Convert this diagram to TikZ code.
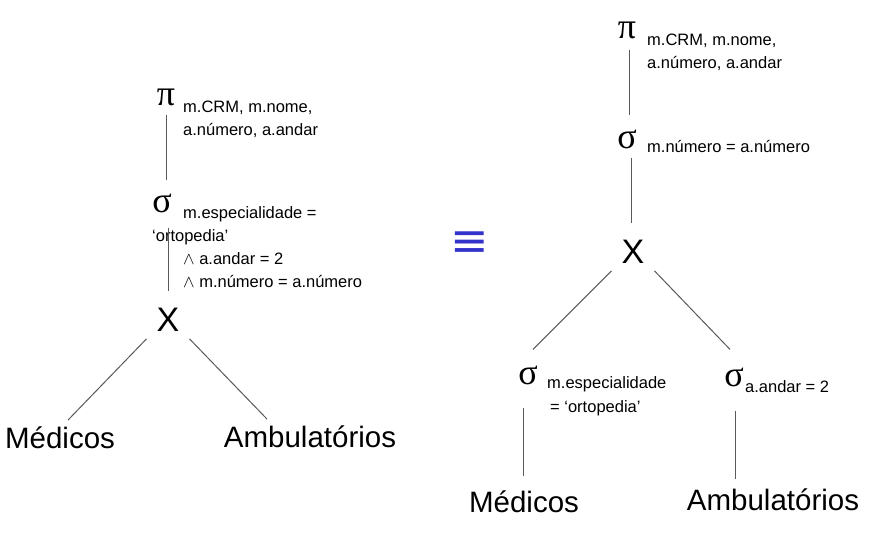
\documentclass[tikz,border=0pt]{standalone}
\usepackage{fontspec}
\setmainfont{Liberation Sans}
\newfontfamily\greekfont{Liberation Serif}
\newfontfamily\symfont{DejaVu Sans}
\definecolor{equivblue}{RGB}{51,51,204}

\begin{document}
\begin{tikzpicture}[x=1pt, y=-1pt, inner sep=0pt,
    op/.style={font=\greekfont\fontsize{36}{36}\selectfont},
    prod/.style={font=\fontsize{34}{34}\selectfont, inner xsep=10pt, inner ysep=7pt},
    attr/.style={font=\fontsize{16.5}{23}\selectfont, align=left, anchor=base west},
    leaf/.style={font=\fontsize{29.5}{30}\selectfont, anchor=base, inner ysep=6pt},
    edge/.style={draw=black!65, line width=1pt}]
    \useasboundingbox (0,0) rectangle (876,536);
    % left tree
    \node[op] (pi-l) at (166,97) {π};
    \node[attr] (pi-l-attr) at (183,135) {m.CRM, m.nome,\\a.número, a.andar};
    \node[op] (sel-l) at (162,203) {σ};
    \node[attr] (sel-l-cond) at (152,287) {\hspace*{31pt}m.especialidade =\\‘ortopedia’\\\hspace*{31pt}$\wedge$ a.andar = 2\\\hspace*{31pt}$\wedge$ m.número = a.número};
    \node[prod] (prod-l) at (168,320) {X};
    \node[leaf] (med-l) at (60,448) {Médicos};
    \node[leaf] (amb-l) at (310,447) {Ambulatórios};
    \draw[edge] ([yshift=-9pt]pi-l.south) -- ([yshift=13pt]pi-l.south |- sel-l.north);
    \draw[edge] ([yshift=-15pt]prod-l.north |- sel-l.south) -- ([yshift=10pt]prod-l.north);
    \draw[edge] (prod-l.south west) -- ([xshift=8pt]med-l.north);
    \draw[edge] (prod-l.south east) -- ([xshift=-43pt]amb-l.north);
    % equivalence
    \node[font=\symfont\fontsize{46}{46}\selectfont, text=equivblue] (equiv) at (470,244) {≡};
    % right tree
    \node[op] (pi-r) at (627,30) {π};
    \node[attr] (pi-r-attr) at (647,68) {m.CRM, m.nome,\\a.número, a.andar};
    \node[op] (sel-r) at (627,139) {σ};
    \node[attr] (sel-r-cond) at (647,152) {m.número = a.número};
    \node[prod] (prod-r) at (633,252) {X};
    \node[op] (selm-r) at (528,375) {σ};
    \node[attr, font=\fontsize{16.5}{24}\selectfont] (selm-r-cond) at (547,412) {m.especialidade\\\hspace*{3pt}= ‘ortopedia’};
    \node[op] (sela-r) at (734,377) {σ};
    \node[attr] (sela-r-cond) at (745,392) {a.andar = 2};
    \node[leaf] (med-r) at (524,512) {Médicos};
    \node[leaf] (amb-r) at (773,510) {Ambulatórios};
    \draw[edge] ([xshift=2pt,yshift=-11pt]pi-r.south) -- ([xshift=2pt,yshift=14pt]pi-r.south |- sel-r.north);
    \draw[edge] ([xshift=4pt,yshift=-9pt]sel-r.south) -- ([xshift=-2pt,yshift=10pt]prod-r.north);
    \draw[edge] (prod-r.south west) -- ([xshift=5pt,yshift=16pt]selm-r.north);
    \draw[edge] (prod-r.south east) -- ([xshift=-4pt,yshift=18pt]sela-r.north);
    \draw[edge] ([xshift=-5pt,yshift=-23pt]selm-r.south) -- ([xshift=-1pt,yshift=8pt]med-r.north);
    \draw[edge] ([xshift=1pt,yshift=-24pt]sela-r.south) -- ([xshift=1pt,yshift=3pt]sela-r.south |- amb-r.north);
\end{tikzpicture}
\end{document}
